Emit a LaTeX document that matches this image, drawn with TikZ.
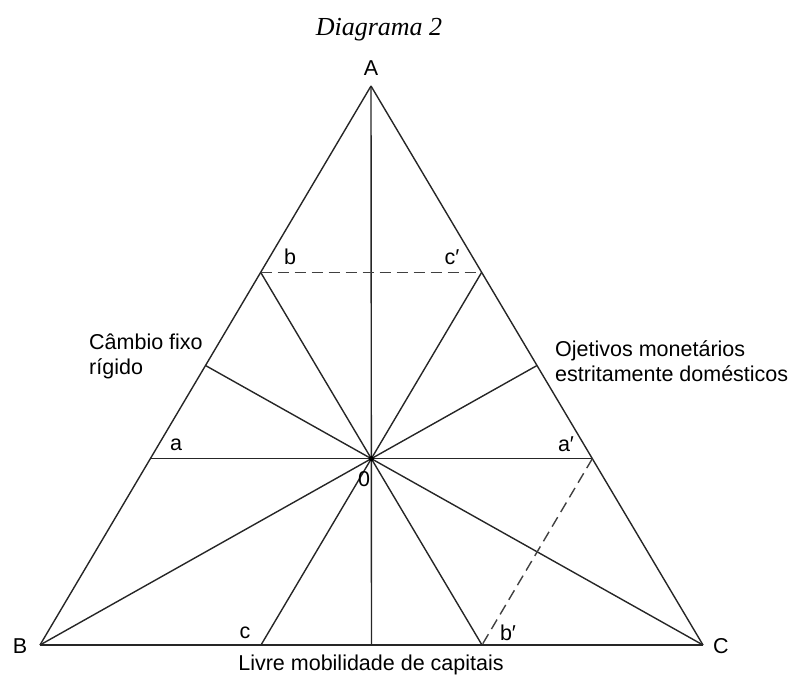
\documentclass[tikz,border=0pt]{standalone}
\usepackage{fontspec}
\setmainfont{Liberation Sans}
\newfontfamily\titlefont{Liberation Serif}
\usepackage{tikz}
\usetikzlibrary{calc}

\begin{document}
\begin{tikzpicture}[
    x=1pt, y=-1pt,
    edge/.style={line width=1.4pt, black!85},
    guide/.style={line width=1.4pt, black!75, dash pattern=on 11pt off 6pt},
    lbl/.style={inner sep=0pt, font=\fontsize{21.5}{25}\selectfont},
    side/.style={lbl, align=left, anchor=west}
]
\useasboundingbox (0,0) rectangle (789,675);

% vertices and points on the sides
\coordinate (A) at (371,86);
\coordinate (B) at (40,645);
\coordinate (C) at (703,645);
\coordinate (O) at ($(A)!2/3!($(B)!0.5!(C)$)$);
\coordinate (pb) at ($(A)!1/3!(B)$);
\coordinate (pa) at ($(A)!2/3!(B)$);
\coordinate (mab) at ($(A)!0.5!(B)$);
\coordinate (pc2) at ($(A)!1/3!(C)$);
\coordinate (pa2) at ($(A)!2/3!(C)$);
\coordinate (mac) at ($(A)!0.5!(C)$);
\coordinate (pc) at ($(B)!1/3!(C)$);
\coordinate (pb2) at ($(B)!2/3!(C)$);
\coordinate (mbc) at ($(B)!0.5!(C)$);

% triangle
\draw[edge] (A) -- (B);
\draw[edge] (A) -- (C);
\draw[edge, line width=2.2pt] (B) -- (C);

% rays from the centre
\foreach \p in {A, B, C, pa, pb, mab, pa2, pc2, mac, pc, pb2, mbc}
    \draw[edge] (O) -- (\p);
\fill (O) circle (2.6pt);

% dashed guides
\draw[guide] (pb) -- (pc2);
\draw[guide] (pa2) -- (pb2);

% labels
\node[font=\titlefont\itshape\fontsize{26}{30}\selectfont, inner sep=0pt] (title) at (379,30) {Diagrama 2};
\node[lbl] (lA) at (371,68) {A};
\node[lbl] (lB) at (20,646) {B};
\node[lbl] (lC) at (721,646) {C};
\node[lbl] (la) at (176,445) {a};
\node[lbl] (la2) at (566,444) {a′};
\node[lbl] (lb) at (290,257) {b};
\node[lbl] (lc2) at (452,257) {c′};
\node[lbl] (lc) at (245,633) {c};
\node[lbl] (lb2) at (508,633) {b′};
\node[lbl] (lO) at (364,479) {0};
\node[side] (fixo) at (89,356) {Câmbio fixo\\rígido};
\node[side] (dom) at (555,361) {Ojetivos monetários\\estritamente domésticos};
\node[lbl] (capital) at (371,665) {Livre mobilidade de capitais};
\end{tikzpicture}
\end{document}
